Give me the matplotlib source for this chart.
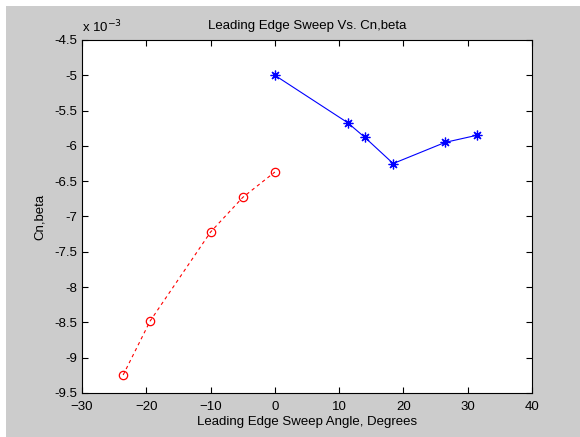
import matplotlib

matplotlib.use("Agg")
import matplotlib.pyplot as plt
from matplotlib.patches import Rectangle

plt.rcParams["font.family"] = ["Liberation Sans", "DejaVu Sans"]

# sweep angle (deg) and Cn,beta (in units of 1e-3)
sweep_pos = [0.0, 11.3, 14.0, 18.4, 26.5, 31.4]
cn_pos = [-5.00, -5.67, -5.88, -6.25, -5.95, -5.85]

sweep_neg = [-23.6, -19.4, -10.0, -5.0, 0.0]
cn_neg = [-9.245, -8.48, -7.22, -6.73, -6.37]

xticks = [-30, -20, -10, 0, 10, 20, 30, 40]
yticks = [-9.5, -9, -8.5, -8, -7.5, -7, -6.5, -6, -5.5, -5, -4.5]

FS = 9.5

fig = plt.figure(figsize=(5.8, 4.37), dpi=100, facecolor="#cccccc")
# thin white strip along top and left edge, as in the screenshot
fig.patches.append(Rectangle((0, 0), 6 / 580, 1, transform=fig.transFigure,
                             facecolor="white", edgecolor="none", zorder=-10))
fig.patches.append(Rectangle((0, 431 / 437), 1, 6 / 437, transform=fig.transFigure,
                             facecolor="white", edgecolor="none", zorder=-10))

ax = fig.add_axes([0.1414, 0.1007, 0.7759, 0.8078])
ax.set_facecolor("white")

ax.plot(sweep_pos, cn_pos, color="blue", linewidth=0.8,
        marker=(8, 2, 0), markersize=7, markeredgewidth=0.9)
ax.plot(sweep_neg, cn_neg, color="red", linewidth=0.8, linestyle=(0, (3, 3)),
        marker="o", markersize=6, markerfacecolor="none", markeredgewidth=0.9)

ax.set_xlim(-30, 40)
ax.set_ylim(-9.5, -4.5)
ax.set_xticks(xticks)
ax.set_yticks(yticks)
ax.set_yticklabels([f"{v:g}" for v in yticks])
ax.tick_params(direction="in", top=True, right=True, length=4, width=0.8,
               labelsize=FS, colors="black")
ax.tick_params(axis="x", pad=6)
ax.tick_params(axis="y", pad=3.5)
for s in ax.spines.values():
    s.set_linewidth(0.8)

ax.set_title("Leading Edge Sweep Vs. Cn,beta", fontsize=FS, pad=8)
ax.set_xlabel("Leading Edge Sweep Angle, Degrees", fontsize=FS, labelpad=2)
ax.set_ylabel("Cn,beta", fontsize=FS, labelpad=6)
ax.text(0.0, 1.012, "x 10$^{-3}$", transform=ax.transAxes, fontsize=FS,
        ha="left", va="bottom")

fig.savefig("out.png", dpi=100, facecolor=fig.get_facecolor())
